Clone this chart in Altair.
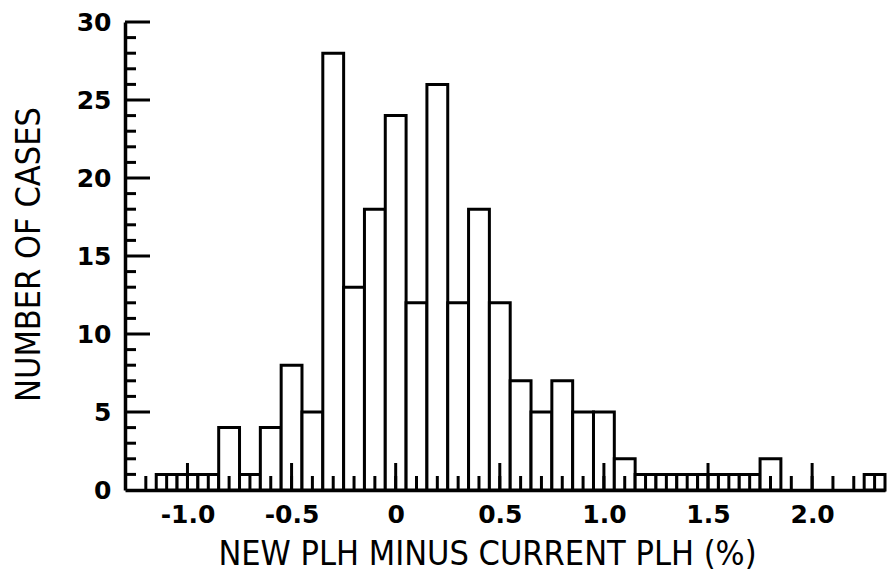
import altair as alt
import pandas as pd

# Histogram bins (bin centres, width 0.1) and counts
bin_centers = [-1.2, -1.1, -1.0, -0.9, -0.8, -0.7, -0.6, -0.5, -0.4, -0.3,
               -0.2, -0.1, 0.0, 0.1, 0.2, 0.3, 0.4, 0.5, 0.6, 0.7,
               0.8, 0.9, 1.0, 1.1, 1.2, 1.3, 1.4, 1.5, 1.6, 1.7,
               1.8, 1.9, 2.0, 2.1, 2.2, 2.3]
counts = [0, 1, 1, 1, 4, 1, 4, 8, 5, 28,
          13, 18, 24, 12, 26, 12, 18, 12, 7, 5,
          7, 5, 5, 2, 1, 1, 1, 1, 1, 1,
          2, 0, 0, 0, 0, 1]
bin_width = 0.1

x_major_ticks = [-1.0, -0.5, 0.0, 0.5, 1.0, 1.5, 2.0]
x_minor_ticks = bin_centers
y_major_ticks = [0, 5, 10, 15, 20, 25, 30]
y_minor_ticks = [1, 2, 3, 4, 6, 7, 8, 9, 11, 12, 13, 14, 16, 17, 18, 19,
                 21, 22, 23, 24, 26, 27, 28, 29]

x_title = "NEW PLH MINUS CURRENT PLH (%)"
y_title = "NUMBER OF CASES"

W, H = 760, 468
NARROW = "'Liberation Sans Narrow', 'DejaVu Sans Condensed', 'Arial Narrow', sans-serif"
BOLD = "'DejaVu Sans', sans-serif"

bars = pd.DataFrame({"center": bin_centers, "count": counts})
bars["lo"] = bars["center"] - bin_width / 2
bars["hi"] = bars["center"] + bin_width / 2
bars = bars[bars["count"] > 0]

xscale = alt.Scale(domain=[-1.3, 2.35], nice=False, zero=False)
yscale = alt.Scale(domain=[0, 30], nice=False)

x_axis = alt.Axis(
    values=x_major_ticks, ticks=False, grid=False,
    domainColor="black", domainWidth=3.5,
    labelFont=BOLD, labelFontSize=25, labelFontWeight="bold", labelColor="black",
    labelPadding=12, labelOverlap=False, labelFlush=False,
    labelExpr="datum.value == 0 ? '0' : replace(format(datum.value, '.1f'), '−', '-')",
    title=x_title, titleFont=NARROW, titleFontSize=34, titleFontWeight="normal",
    titleColor="black", titleX=362, titleY=64, titleAlign="center",
    titleBaseline="middle", titleAnchor="middle",
)
y_axis = alt.Axis(
    values=y_major_ticks, ticks=False, grid=False,
    domainColor="black", domainWidth=3.5,
    labelFont=BOLD, labelFontSize=25, labelFontWeight="bold", labelColor="black",
    labelPadding=14, labelOverlap=False, labelFlush=False,
    title=y_title, titleFont=NARROW, titleFontSize=34, titleFontWeight="normal",
    titleColor="black", titleX=-96, titleY=232, titleAngle=270,
    titleAlign="center", titleBaseline="middle",
)

bar_layer = alt.Chart(bars).mark_bar(
    fill="white", stroke="black", strokeWidth=3, strokeJoin="miter"
).encode(
    x=alt.X("lo:Q", scale=xscale, axis=x_axis),
    x2="hi:Q",
    y=alt.Y("count:Q", scale=yscale, axis=y_axis),
    y2=alt.datum(0),
)

xminor = alt.Chart(pd.DataFrame({"v": x_minor_ticks})).mark_rule(
    color="black", strokeWidth=3
).encode(
    x=alt.X("v:Q", scale=xscale, axis=x_axis),
    y=alt.value(H), y2=alt.value(H - 14),
)
xmajor = alt.Chart(pd.DataFrame({"v": x_major_ticks})).mark_rule(
    color="black", strokeWidth=3
).encode(
    x=alt.X("v:Q", scale=xscale, axis=x_axis),
    y=alt.value(H), y2=alt.value(H - 27),
)
yminor = alt.Chart(pd.DataFrame({"v": y_minor_ticks})).mark_rule(
    color="black", strokeWidth=3
).encode(
    y=alt.Y("v:Q", scale=yscale, axis=y_axis),
    x=alt.value(0), x2=alt.value(11),
)
ymajor = alt.Chart(pd.DataFrame({"v": y_major_ticks[1:]})).mark_rule(
    color="black", strokeWidth=3
).encode(
    y=alt.Y("v:Q", scale=yscale, axis=y_axis),
    x=alt.value(0), x2=alt.value(25),
)

chart = alt.layer(bar_layer, xminor, xmajor, yminor, ymajor).properties(
    width=W, height=H,
    autosize=alt.AutoSizeParams(type="none"),
    padding={"left": 117, "top": 14, "right": 3, "bottom": 86},
    background="white",
).configure_view(stroke=None)

chart.save("out.html", embed_options={"renderer": "svg", "actions": False})
